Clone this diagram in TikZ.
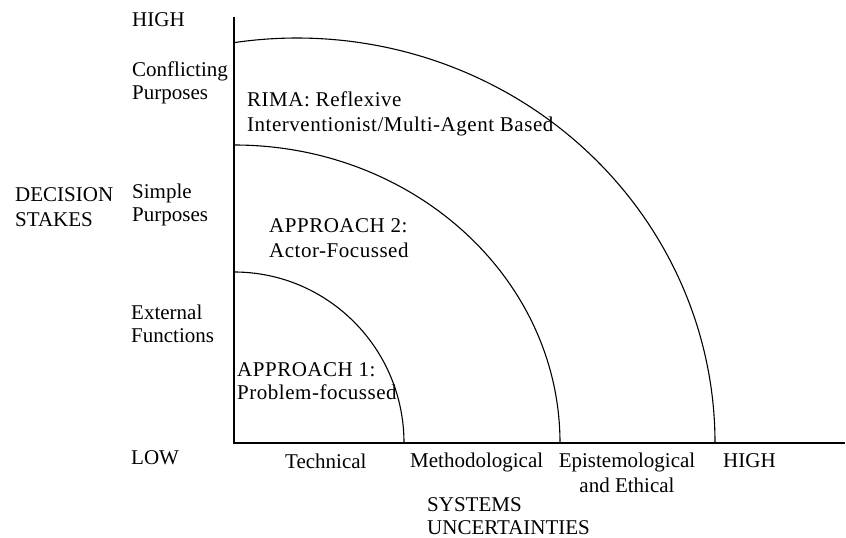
\documentclass[tikz,border=0pt]{standalone}
\usepackage{fontspec}
\setmainfont{Liberation Serif}
\newfontfamily\spacedfont[LetterSpace=2.5]{Liberation Serif}
\begin{document}
\begin{tikzpicture}[x=1pt,y=1pt,
  lbl/.style={inner sep=0pt, anchor=base west, align=left, font=\fontsize{21}{23}\selectfont},
  widelbl/.style={lbl, font=\fontsize{21}{25}\selectfont},
  zone/.style={inner sep=0pt, anchor=base west, align=left, font=\fontsize{21}{25}\selectfont\spacedfont},
  axisline/.style={line width=1.2pt},
  ring/.style={line width=1.1pt}]
\useasboundingbox (0,0) rectangle (846,538);
% axes
\coordinate (O) at (234,95);
\coordinate (ytop) at (234,521);
\coordinate (xend) at (845,95);
\draw[axisline] (ytop) -- (O) -- (xend);
% rings
\coordinate (r1) at (404,95);
\coordinate (r2) at (560,95);
\coordinate (r3) at (715,95);
\draw[ring] (r1) arc[start angle=0, end angle=90, x radius=170, y radius=171];
\draw[ring] (r2) arc[start angle=0, end angle=90, x radius=326, y radius=298];
\draw[ring] (r3) arc[start angle=0, end angle=98.67, x radius=418, y radius=405];
% vertical axis labels (y = baseline of last line)
\node[lbl] (vhigh) at (132,511) {HIGH};
\node[lbl] (conf) at (132,438) {Conflicting\\Purposes};
\node[lbl] (simple) at (132,316) {Simple\\Purposes};
\node[lbl] (ext) at (131,195) {External\\Functions};
\node[lbl] (low) at (131,73) {LOW};
\node[widelbl] (stakes) at (15,311) {DECISION\\STAKES};
% horizontal axis labels
\node[lbl] (tech) at (285,69) {Technical};
\node[lbl] (meth) at (410,70) {Methodological};
\node[widelbl, anchor=base, align=center] (epi) at (627,45) {Epistemological\\and Ethical};
\node[lbl] (hhigh) at (723,70) {HIGH};
\node[lbl] (sysu) at (427,3) {SYSTEMS\\UNCERTAINTIES};
% zone labels
\node[zone] (rima) at (247,406) {RIMA: Reflexive\\Interventionist/Multi-Agent Based};
\node[zone] (app2) at (269,280) {APPROACH 2:\\Actor-Focussed};
\node[zone, font=\fontsize{21}{23}\selectfont\spacedfont] (app1) at (237,138) {APPROACH 1:\\Problem-focussed};
\end{tikzpicture}
\end{document}
